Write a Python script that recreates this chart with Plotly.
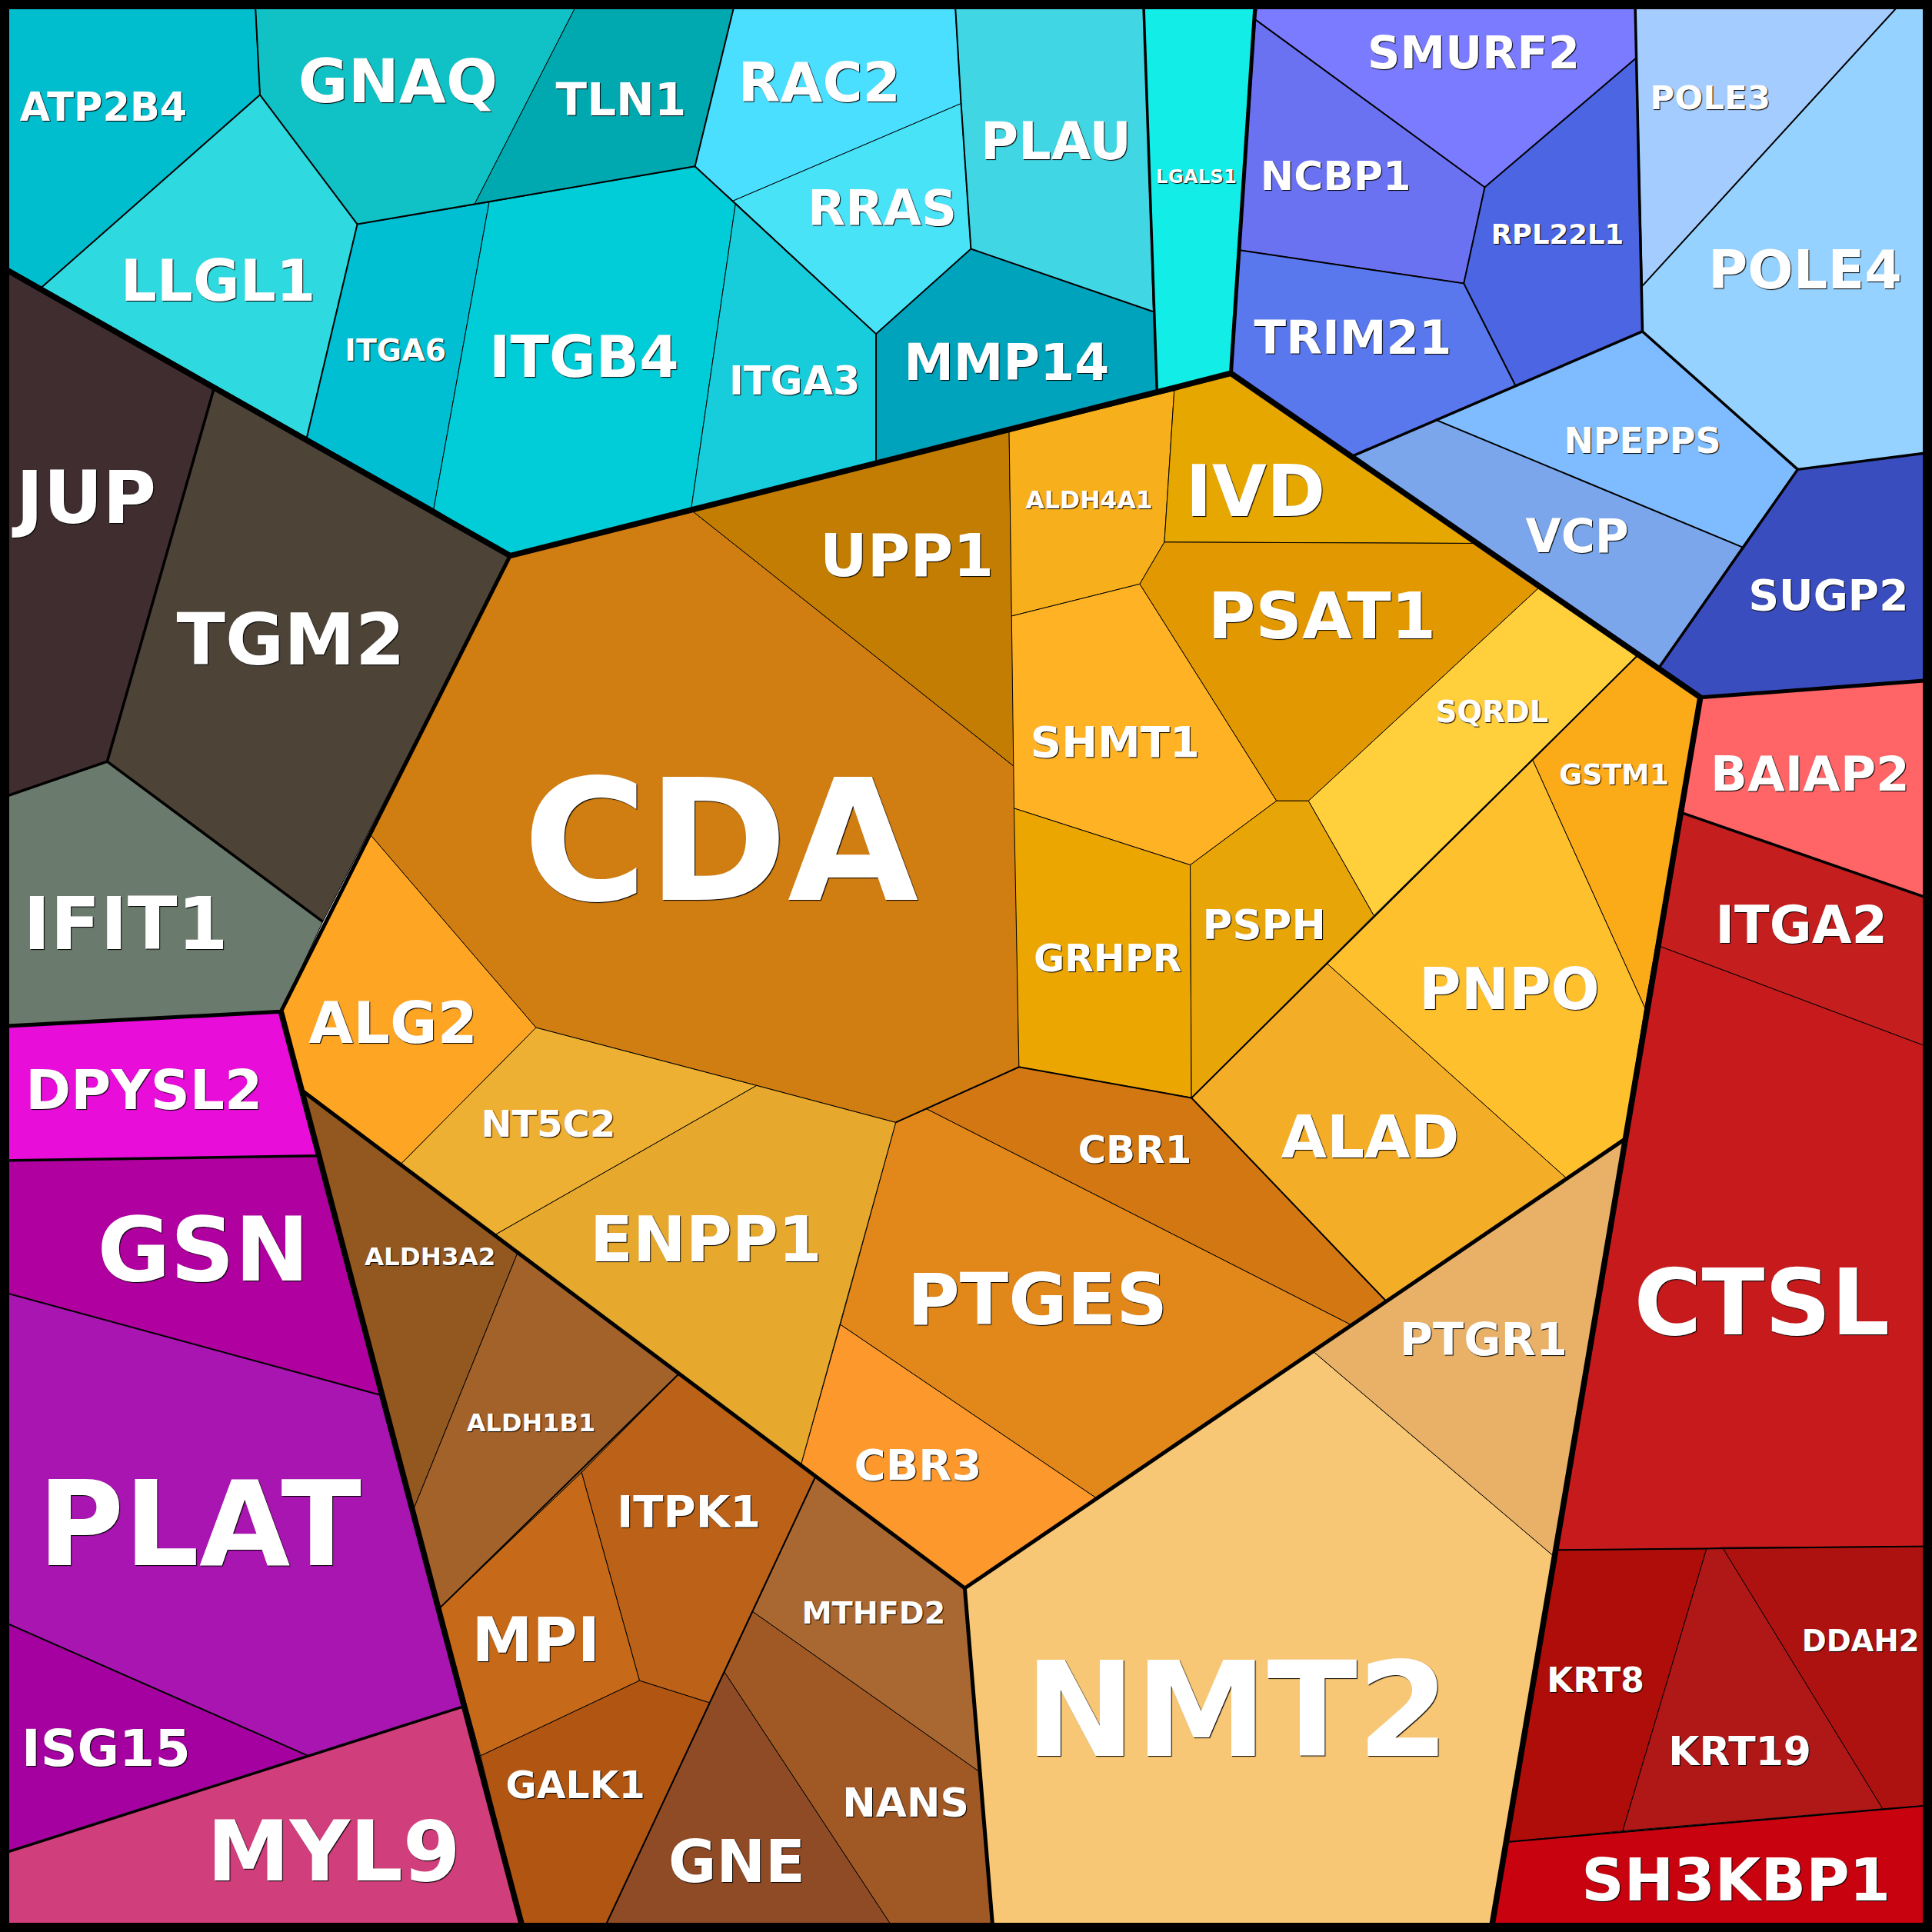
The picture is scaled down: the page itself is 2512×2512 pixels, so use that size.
import plotly.graph_objects as go

# ==========================================
# CONFIGURATION
# ==========================================
FONT = "DejaVu Sans"
SPAN = 1568

# ==========================================
# DATA (image units)
# ==========================================
genes = [
    "ATP2B4", "GNAQ", "TLN1", "LLGL1", "ITGA6", "ITGB4", "RAC2", "RRAS", "ITGA3", "MMP14", "PLAU", "LGALS1",
    "SMURF2", "NCBP1", "RPL22L1", "TRIM21", "NPEPPS", "VCP", "POLE3", "POLE4", "SUGP2",
    "JUP", "TGM2", "IFIT1",
    "DPYSL2", "GSN", "PLAT", "ISG15", "MYL9",
    "CDA", "UPP1", "ALDH4A1", "IVD", "PSAT1", "SHMT1", "GRHPR", "PSPH", "SQRDL", "GSTM1", "PNPO", "ALAD",
    "CBR1", "PTGES", "CBR3", "ENPP1", "NT5C2", "ALG2",
    "ALDH3A2", "ALDH1B1", "ITPK1", "MPI", "GALK1", "GNE", "NANS", "MTHFD2",
    "NMT2", "PTGR1",
    "BAIAP2", "ITGA2", "CTSL", "KRT8", "KRT19", "DDAH2", "SH3KBP1",
]

cell_outlines = [
    [(0, 0), (207, 0), (211, 77), (34, 233), (0, 214)],
    [(207, 0), (470, 0), (385, 166), (290, 182), (211, 77)],
    [(470, 0), (597, 0), (564, 135), (385, 166)],
    [(34, 233), (211, 77), (290, 182), (249, 355)],
    [(290, 182), (397, 164), (352, 413), (249, 355)],
    [(397, 164), (564, 135), (597, 165), (561, 413), (414, 451), (352, 413)],
    [(597, 0), (775, 0), (780, 84), (595, 163), (564, 135)],
    [(780, 84), (788, 202), (711, 271), (595, 163)],
    [(597, 165), (711, 271), (711, 375), (561, 413)],
    [(711, 271), (788, 202), (936, 253), (939, 318), (711, 375)],
    [(775, 0), (928, 0), (936, 253), (788, 202), (780, 84)],
    [(928, 0), (1019, 0), (999, 303), (939, 318)],
    [(1019, 16), (1021, 0), (1327, 0), (1328, 47), (1205, 152)],
    [(1019, 16), (1205, 152), (1188, 230), (1006, 203)],
    [(1328, 47), (1333, 269), (1230, 313), (1188, 230), (1205, 152)],
    [(1006, 203), (1188, 230), (1230, 313), (1098, 370), (999, 303)],
    [(1333, 269), (1459, 381), (1414, 444), (1166, 341), (1230, 313)],
    [(1166, 341), (1414, 444), (1347, 541), (1098, 370)],
    [(1327, 0), (1545, 0), (1333, 232)],
    [(1545, 0), (1568, 0), (1568, 367), (1459, 381), (1333, 269), (1333, 232)],
    [(1459, 381), (1568, 367), (1568, 552), (1380, 566), (1347, 541)],
    [(0, 218), (174, 314), (87, 618), (0, 648)],
    [(174, 314), (414, 451), (262, 748), (87, 618)],
    [(0, 648), (87, 618), (262, 748), (228, 821), (0, 833)],
    [(0, 833), (228, 821), (258, 938), (0, 942)],
    [(0, 942), (258, 938), (308, 1132), (0, 1048)],
    [(0, 1048), (308, 1132), (376, 1385), (250, 1425), (0, 1315)],
    [(0, 1315), (250, 1425), (0, 1505)],
    [(0, 1505), (376, 1385), (425, 1568), (0, 1568)],
    [(561, 414), (823, 622), (827, 866), (727, 911), (614, 881), (435, 834), (301, 678), (414, 451)],
    [(561, 414), (819, 350), (823, 622)],
    [(819, 350), (953, 317), (945, 440), (925, 474), (821, 500)],
    [(953, 317), (999, 303), (1200, 441), (945, 440)],
    [(945, 440), (1200, 441), (1249, 477), (1062, 650), (1036, 650), (925, 474)],
    [(821, 500), (925, 474), (1036, 650), (966, 702), (823, 656)],
    [(823, 656), (966, 702), (967, 891), (827, 866)],
    [(966, 702), (1036, 650), (1062, 650), (1115, 743), (967, 891)],
    [(1249, 477), (1329, 532), (1115, 743), (1062, 650)],
    [(1329, 532), (1380, 566), (1335, 818), (1244, 617)],
    [(1244, 617), (1335, 818), (1318, 925), (1271, 956), (1077, 782)],
    [(1077, 782), (1271, 956), (1125, 1056), (967, 891)],
    [(752, 900), (827, 866), (967, 891), (1125, 1056), (1096, 1075)],
    [(727, 911), (752, 900), (1096, 1075), (890, 1216), (682, 1075)],
    [(682, 1075), (890, 1216), (783, 1289), (650, 1189)],
    [(402, 1002), (614, 881), (727, 911), (650, 1189)],
    [(325, 945), (435, 834), (614, 881), (402, 1002)],
    [(301, 678), (435, 834), (325, 945), (245, 885), (228, 821)],
    [(245, 885), (420, 1017), (336, 1224)],
    [(420, 1017), (551, 1115), (472, 1195), (357, 1305), (336, 1224)],
    [(551, 1115), (662, 1198), (576, 1382), (519, 1364), (472, 1195)],
    [(472, 1195), (519, 1364), (390, 1425), (357, 1305)],
    [(519, 1364), (576, 1382), (489, 1568), (425, 1568), (390, 1425)],
    [(588, 1357), (727, 1568), (489, 1568)],
    [(611, 1308), (795, 1438), (806, 1568), (727, 1568), (588, 1357)],
    [(662, 1198), (783, 1289), (795, 1438), (611, 1308)],
    [(783, 1289), (890, 1216), (1066, 1097), (1261, 1263), (1210, 1568), (806, 1568)],
    [(1066, 1097), (1318, 925), (1261, 1263)],
    [(1380, 566), (1568, 552), (1568, 730), (1366, 660)],
    [(1366, 660), (1568, 730), (1568, 851), (1347, 768)],
    [(1347, 768), (1568, 851), (1568, 1255), (1262, 1258), (1318, 925)],
    [(1262, 1258), (1385, 1257), (1317, 1486), (1223, 1495)],
    [(1385, 1257), (1398, 1256), (1528, 1468), (1317, 1486)],
    [(1398, 1256), (1568, 1255), (1568, 1465), (1528, 1468)],
    [(1223, 1495), (1568, 1465), (1568, 1568), (1210, 1568)],
]

cell_colors = [
    "#00BECD", "#10C2C6", "#00A9B0", "#2FD9E0", "#00BFD3", "#00CDD7", "#4ADEFF", "#48E3F7", "#17CDDB", "#00A3BC", "#40D6E3", "#12EDE8",
    "#7B7BFF", "#6A72F2", "#4C65E3", "#5A78EE", "#7FBCFF", "#7BA6EB", "#A5CCFF", "#96D2FF", "#3A4DBF",
    "#402D30", "#4D4337", "#6A7A6C",
    "#E80DD9", "#B000A0", "#A815B0", "#A500A0", "#D03F7C",
    "#D07D12", "#C27D02", "#F7B01C", "#E5A700", "#E29800", "#FFB224", "#EBA602", "#E8A508", "#FFD03C", "#FBAB18", "#FFC02E", "#F4AD26",
    "#D37712", "#E2881A", "#FC982C", "#E6A82D", "#EEB032", "#FFA524",
    "#925820", "#A3622A", "#BB6218", "#C66A19", "#B05512", "#8F4B25", "#A05824", "#A96832",
    "#F7C775", "#E8B167",
    "#FF6466", "#C41E1E", "#C61A1C", "#AF0D0A", "#B01818", "#AE1210", "#C8030F",
]

label_x = [
    84, 323, 504, 177, 321, 474, 665, 716, 645, 817, 857, 971,
    1196, 1084, 1264, 1098, 1333, 1280, 1388, 1465, 1484,
    70, 236, 102,
    117, 165, 162, 86, 271,
    585, 736, 884, 1019, 1073, 905, 899, 1026, 1211, 1310, 1225, 1112,
    921, 842, 745, 573, 445, 319,
    349, 431, 559, 435, 467, 598, 735, 709,
    1004, 1204,
    1469, 1462, 1430, 1295, 1412, 1510, 1409,
]

label_y = [
    87, 66, 81, 228, 284, 290, 67, 169, 309, 294, 115, 143,
    43, 143, 190, 274, 358, 435, 79, 219, 483,
    404, 519, 750,
    885, 1014, 1237, 1419, 1503,
    683, 451, 406, 399, 500, 602, 778, 751, 578, 629, 803, 923,
    933, 1055, 1189, 1006, 912, 830,
    1020, 1155, 1227, 1331, 1449, 1511, 1463, 1309,
    1388, 1087,
    628, 751, 1057, 1364, 1421, 1332, 1526,
]

label_sizes = [
    51, 79, 59.5, 74, 39.5, 74, 71, 64, 51, 65, 67, 24.5,
    59, 52, 35.5, 61, 46, 60, 43.5, 70, 55,
    95, 93, 95,
    71, 116, 153, 66.5, 108,
    220, 76, 31.5, 92, 84, 56, 49, 53, 38.5, 36.5, 74.5, 77,
    50, 93, 56, 82, 48, 75,
    32.5, 32, 57.5, 79.5, 49, 76, 52, 39.5,
    172, 59,
    63, 67, 120, 44, 52, 38.5, 77,
]

# borders between the big groups
heavy_edges = [
    [(0, 216), (414, 451), (999, 303), (1380, 566), (1210, 1568)],
    [(228, 821), (425, 1568)],
]

# borders one level down
strong_edges = [
    [(999, 303), (1019, 0)],
    [(1380, 566), (1568, 552)],
    [(414, 451), (228, 821), (0, 833)],
    [(245, 885), (783, 1289), (1318, 925)],
    [(783, 1289), (806, 1568)],
]

medium_edges = [
    [(1327, 0), (1333, 269), (1459, 381), (1347, 541)],
    [(1459, 381), (1568, 367)],
    [(1098, 370), (1333, 269)],
    [(174, 314), (87, 618), (0, 648)],
    [(87, 618), (262, 748)],
    [(928, 0), (939, 318)],
    [(0, 942), (258, 938)],
    [(0, 1505), (376, 1385)],
    [(1366, 660), (1568, 730)],
]

light_edges = [
    [(207, 0), (211, 77), (34, 233)],
    [(211, 77), (290, 182), (249, 355)],
    [(290, 182), (564, 135), (597, 0)],
    [(564, 135), (711, 271), (788, 202), (936, 253)],
    [(775, 0), (780, 84), (788, 202)],
    [(711, 271), (711, 375)],
    [(1019, 16), (1205, 152), (1328, 47)],
    [(1006, 203), (1188, 230), (1205, 152)],
    [(1188, 230), (1230, 313)],
    [(1333, 232), (1545, 0)],
    [(1166, 341), (1414, 444)],
    [(0, 1048), (308, 1132)],
    [(0, 1315), (250, 1425)],
    [(1329, 532), (967, 891), (1125, 1056)],
    [(967, 891), (827, 866), (727, 911)],
    [(551, 1115), (357, 1305)],
    [(662, 1198), (576, 1382), (489, 1568)],
    [(1262, 1258), (1568, 1255)],
    [(1223, 1495), (1568, 1465)],
]

frame_edge = [(0, 0), (SPAN, 0), (SPAN, SPAN), (0, SPAN), (0, 0)]


def add_path(fig, points, width):
    """Draws one open black polyline."""
    fig.add_trace(go.Scatter(
        x=[p[0] for p in points],
        y=[p[1] for p in points],
        mode="lines",
        line=dict(color="black", width=width),
        hoverinfo="skip",
    ))


def main():
    fig = go.Figure()

    for gene, outline, color in zip(genes, cell_outlines, cell_colors):
        fig.add_trace(go.Scatter(
            x=[p[0] for p in outline] + [outline[0][0]],
            y=[p[1] for p in outline] + [outline[0][1]],
            mode="lines",
            fill="toself",
            fillcolor=color,
            line=dict(color="black", width=1),
            name=gene,
        ))

    for edge in light_edges:
        add_path(fig, edge, 2)
    for edge in medium_edges:
        add_path(fig, edge, 3.5)
    for edge in strong_edges:
        add_path(fig, edge, 5)
    for edge in heavy_edges:
        add_path(fig, edge, 7.5)
    add_path(fig, frame_edge, 24)

    # plotly's middle anchor sits a little above the middle of the capitals
    text_y = [y + 0.06 * size for y, size in zip(label_y, label_sizes)]
    fig.add_trace(go.Scatter(
        x=label_x,
        y=text_y,
        text=genes,
        mode="text",
        textposition="middle center",
        textfont=dict(
            family=FONT,
            size=label_sizes,
            color="white",
            weight="bold",
            shadow="1px 1px 1px #000000",
        ),
        hoverinfo="skip",
    ))

    fig.update_layout(
        width=2512,
        height=2512,
        margin=dict(l=0, r=0, t=0, b=0),
        showlegend=False,
        paper_bgcolor="white",
        plot_bgcolor="white",
    )
    fig.update_xaxes(range=[0, SPAN], visible=False)
    fig.update_yaxes(range=[SPAN, 0], visible=False)
    # default page has an 8px body margin
    fig.write_html(
        "out.html",
        config={"displayModeBar": False},
        post_script="document.body.style.margin = '0';",
    )


if __name__ == "__main__":
    main()
